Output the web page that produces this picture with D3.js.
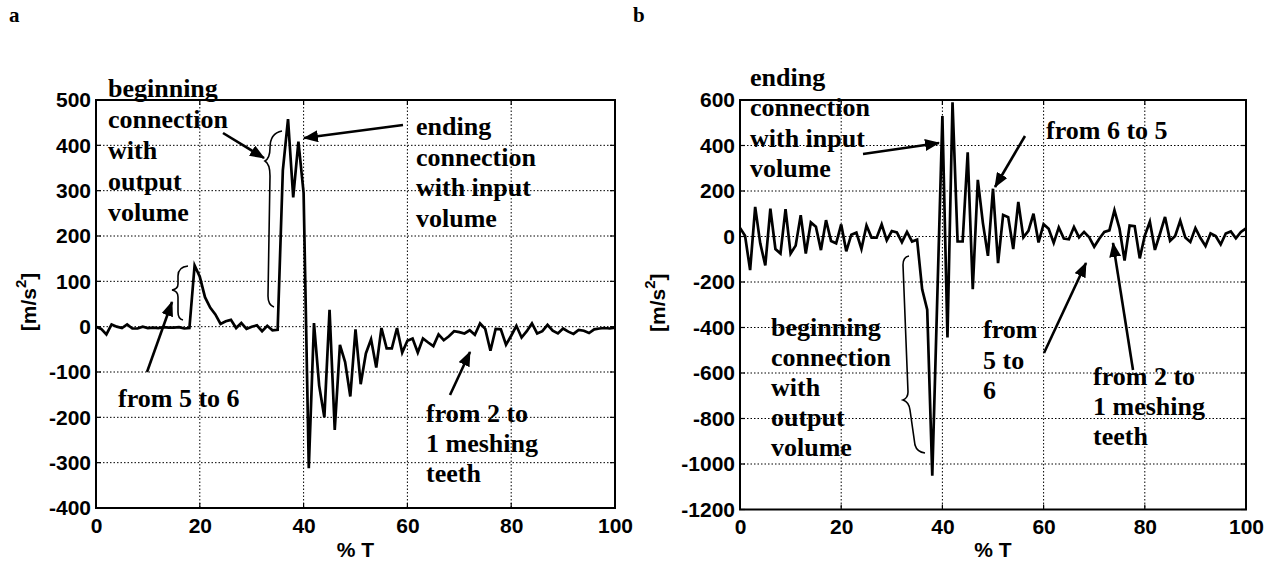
<!DOCTYPE html>
<html>
<head>
<meta charset="utf-8">
<script src="https://cdn.jsdelivr.net/npm/d3@7"></script>
<style>
  html, body { margin: 0; padding: 0; background: #fff; }
  svg { display: block; }
</style>
</head>
<body>
<svg id="chart" width="1279" height="574"></svg>
<script>
// ---------- data ----------
const xTicks = [0, 20, 40, 60, 80, 100];
const yTicksA = [500, 400, 300, 200, 100, 0, -100, -200, -300, -400];
const yTicksB = [600, 400, 200, 0, -200, -400, -600, -800, -1000, -1200];

// % T sample positions (0..100, step 1)
const percentT = d3.range(0, 101);

// panel a acceleration [m/s^2]
const accelA = [
  0, -5, -17, 5, 0, -3, 5, -4, -4, 0,
  -3, -2, -3, -1, -2, -2, -1, -4, -3, 135,
  110, 65, 42, 27, 6, 12, 15, -3, 8, -5,
  0, 3, -10, 2, -8, -7, 345, 458, 285, 408,
  295, -312, 8, -130, -200, 37, -228, -40, -78, -154,
  -6, -127, -59, -28, -90, -3, -48, -48, -3, -57,
  -31, -26, -57, -26, -35, -43, -17, -30, -21, -10,
  -12, -15, -8, -18, 7, -5, -53, -5, -6, -40,
  -20, 2, -24, -10, 7, -15, -10, 4, -9, -15,
  -4, -11, -16, -7, -9, -14, -6, -4, -3, -4, -2
];

// panel b acceleration [m/s^2]
const accelB = [
  38, 3, -148, 130, -30, -127, 122, -55, -75, 120,
  -75, -40, 94, -75, 62, 43, -60, 72, -20, -30,
  53, -65, 8, 17, -55, 48, -5, -5, 53, -17,
  24, 18, -25, 20, -22, -14, -232, -322, -1052, -260,
  530, -444, 590, -22, -22, 370, -232, 249, 60, -85,
  210, -117, 95, 85, -55, 152, -4, 25, 100, -26,
  54, 34, -28, 40, -9, -12, 42, -4, 20, -3,
  -45, -10, 20, 27, 115, 35, -106, 48, 45, -96,
  4, 65, -59, 12, 86, -19, 2, 69, -4, -24,
  37, -7, -42, 14, 2, -35, 13, 22, -8, 20, 36
];

// annotation texts
const annA = [
  { lines: ["beginning", "connection", "with", "output", "volume"], x: 108, y: 96.5, lh: 31 },
  { lines: ["from 5 to 6"], x: 118, y: 407, lh: 30 },
  { lines: ["ending", "connection", "with input", "volume"], x: 416, y: 135, lh: 30.5 },
  { lines: ["from 2 to", "1 meshing", "teeth"], x: 426, y: 422, lh: 30 }
];
const arrowsA = [
  [[223, 133], [264, 158]],
  [[147, 372], [172, 302]],
  [[403, 125], [304, 138]],
  [[450, 395], [470, 352]]
];
const bracesA = [
  "M282,131 Q270,133 270,148 Q270,158 265,161 Q270,164 270,176 L268,296 Q268,305 274,307",
  "M188,266 Q178,267 178,276 L178,284 Q178,289 172,290 Q178,291 178,297 L178,312 Q178,319 183,320"
];

const annB = [
  { lines: ["ending", "connection", "with input", "volume"], x: 750, y: 86, lh: 30.3 },
  { lines: ["from 6 to 5"], x: 1046, y: 139, lh: 30 },
  { lines: ["beginning", "connection", "with", "output", "volume"], x: 771, y: 335.5, lh: 30.2 },
  { lines: ["from", "5 to", "6"], x: 983, y: 338, lh: 30.5 },
  { lines: ["from 2 to", "1 meshing", "teeth"], x: 1093, y: 385, lh: 30 }
];
const arrowsB = [
  [[863, 154], [939, 143]],
  [[1025, 136], [995, 187]],
  [[1044, 353], [1086, 263]],
  [[1133, 370], [1113, 243]]
];
const bracesB = [
  "M909,256 Q903,257 903,265 L908,392 Q908,398 903,400 Q909,402 910,410 L915,445 Q917,452 925,453"
];

// ---------- drawing ----------
const svg = d3.select("#chart");
const defs = svg.append("defs");
defs.append("marker")
  .attr("id", "ah")
  .attr("markerUnits", "userSpaceOnUse")
  .attr("markerWidth", 16).attr("markerHeight", 12)
  .attr("refX", 14).attr("refY", 6)
  .attr("orient", "auto")
  .append("path").attr("d", "M0,0 L15,6 L0,12 Z").attr("fill", "#000");

const SERIF = "'Liberation Serif', 'Times New Roman', serif";
const SANS = "'Liberation Sans', Arial, sans-serif";
const plainFmt = d => String(d);

function panel(cfg) {
  const g = svg.append("g");
  const x = d3.scaleLinear().domain([0, 100]).range([cfg.left, cfg.right]);
  const y = d3.scaleLinear().domain(cfg.yDomain).range([cfg.bottom, cfg.top]);

  // annotations (under grid and line)
  cfg.ann.forEach(a => {
    const t = g.append("text")
      .attr("font-family", SERIF).attr("font-weight", "bold")
      .attr("font-size", 26).attr("fill", "#000");
    a.lines.forEach((ln, i) => {
      t.append("tspan").attr("x", a.x).attr("y", a.y + i * a.lh).text(ln);
    });
  });

  // grid
  g.append("g").selectAll("line").data(xTicks.slice(1, -1)).join("line")
    .attr("x1", d => x(d)).attr("x2", d => x(d))
    .attr("y1", cfg.top).attr("y2", cfg.bottom)
    .attr("stroke", "#000").attr("stroke-width", 1).attr("stroke-dasharray", "1.5,2");
  g.append("g").selectAll("line").data(cfg.yTicks.slice(1, -1)).join("line")
    .attr("y1", d => y(d)).attr("y2", d => y(d))
    .attr("x1", cfg.left).attr("x2", cfg.right)
    .attr("stroke", "#000").attr("stroke-width", 1).attr("stroke-dasharray", "1.5,2");

  // inward ticks on all sides
  const tk = 5;
  const tg = g.append("g").attr("stroke", "#000").attr("stroke-width", 1.2);
  xTicks.forEach(d => {
    tg.append("line").attr("x1", x(d)).attr("x2", x(d)).attr("y1", cfg.bottom).attr("y2", cfg.bottom - tk);
    tg.append("line").attr("x1", x(d)).attr("x2", x(d)).attr("y1", cfg.top).attr("y2", cfg.top + tk);
  });
  cfg.yTicks.forEach(d => {
    tg.append("line").attr("y1", y(d)).attr("y2", y(d)).attr("x1", cfg.left).attr("x2", cfg.left + tk);
    tg.append("line").attr("y1", y(d)).attr("y2", y(d)).attr("x1", cfg.right).attr("x2", cfg.right - tk);
  });

  // braces
  cfg.braces.forEach(p => {
    g.append("path").attr("d", p).attr("fill", "none")
      .attr("stroke", "#000").attr("stroke-width", 1.6);
  });

  // data line
  const line = d3.line().x((d, i) => x(percentT[i])).y(d => y(d));
  g.append("path").datum(cfg.values).attr("d", line)
    .attr("fill", "none").attr("stroke", "#000").attr("stroke-width", 2.7)
    .attr("stroke-linejoin", "miter").attr("stroke-miterlimit", 4);

  // arrows
  cfg.arrows.forEach(a => {
    g.append("line")
      .attr("x1", a[0][0]).attr("y1", a[0][1])
      .attr("x2", a[1][0]).attr("y2", a[1][1])
      .attr("stroke", "#000").attr("stroke-width", 2.6)
      .attr("marker-end", "url(#ah)");
  });

  // frame
  g.append("rect")
    .attr("x", cfg.left).attr("y", cfg.top)
    .attr("width", cfg.right - cfg.left).attr("height", cfg.bottom - cfg.top)
    .attr("fill", "none").attr("stroke", "#000").attr("stroke-width", 2);

  // axes labels
  const ax = g.append("g").attr("transform", `translate(0,${cfg.bottom})`)
    .call(d3.axisBottom(x).tickValues(xTicks).tickFormat(plainFmt).tickSize(0).tickPadding(10));
  const ay = g.append("g").attr("transform", `translate(${cfg.left},0)`)
    .call(d3.axisLeft(y).tickValues(cfg.yTicks).tickFormat(plainFmt).tickSize(0).tickPadding(5));
  [ax, ay].forEach(a => {
    a.select(".domain").remove();
    a.selectAll("text").attr("font-family", SANS).attr("font-weight", "bold")
      .attr("font-size", 21).attr("fill", "#000");
  });

  // axis titles
  g.append("text")
    .attr("x", (cfg.left + cfg.right) / 2).attr("y", 557)
    .attr("text-anchor", "middle")
    .attr("font-family", SANS).attr("font-weight", "bold").attr("font-size", 21)
    .text("% T");
  const yt = g.append("text")
    .attr("transform", `translate(${cfg.ytx},${(cfg.top + cfg.bottom) / 2 - 2}) rotate(-90)`)
    .attr("text-anchor", "middle")
    .attr("font-family", SANS).attr("font-weight", "bold").attr("font-size", 21);
  yt.append("tspan").text("[m/s");
  yt.append("tspan").attr("font-size", 15).attr("dy", -10).text("2");
  yt.append("tspan").attr("dy", 10).text("]");

  // panel letter
  svg.append("text").attr("x", cfg.letterX).attr("y", 22)
    .attr("font-family", SERIF).attr("font-weight", "bold").attr("font-size", 21)
    .text(cfg.letter);
}

panel({
  left: 96, right: 615, top: 100, bottom: 508,
  yDomain: [-400, 500], yTicks: yTicksA, values: accelA,
  ann: annA, arrows: arrowsA, braces: bracesA,
  ytx: 36, letter: "a", letterX: 9
});
panel({
  left: 740, right: 1246, top: 100, bottom: 509.5,
  yDomain: [-1200, 600], yTicks: yTicksB, values: accelB,
  ann: annB, arrows: arrowsB, braces: bracesB,
  ytx: 665, letter: "b", letterX: 633
});
</script>
</body>
</html>
